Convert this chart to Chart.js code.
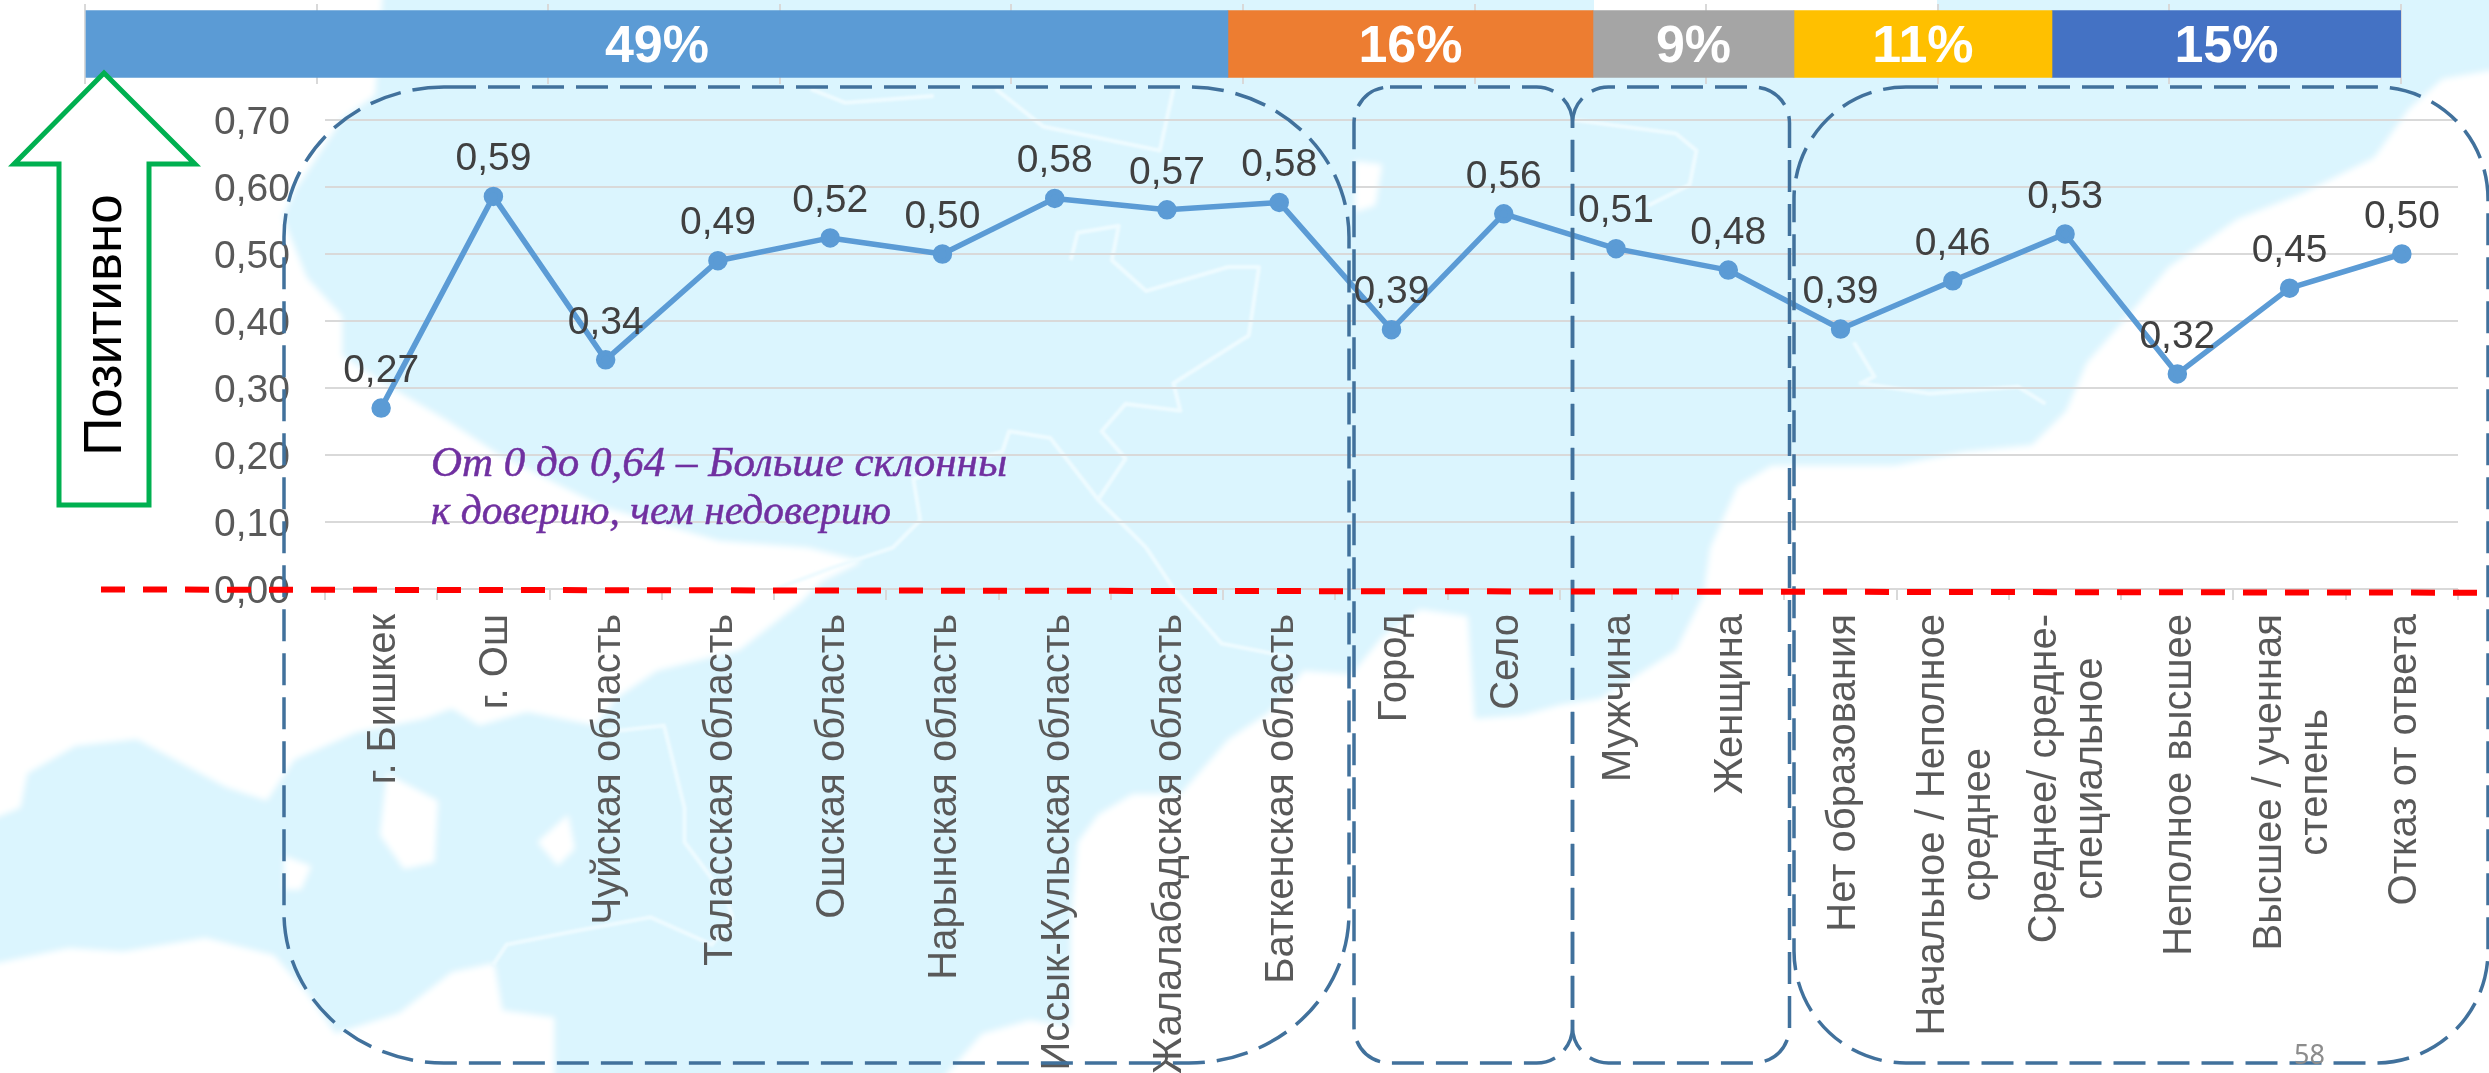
<!DOCTYPE html>
<html>
<head>
<meta charset="utf-8">
<script src="https://cdn.jsdelivr.net/npm/chart.js@4/dist/chart.umd.min.js"></script>
<style>
  html, body { margin: 0; padding: 0; background: #fff; overflow: hidden; }
  #page { position: relative; width: 2489px; height: 1073px; background: #dbf5fe; overflow: hidden; }
  #page > svg, #page > canvas { position: absolute; left: 0; top: 0; }
</style>
</head>
<body>
<div id="page">
  <!-- map behind the chart -->
  <svg width="2489" height="1073">
    <defs>
      <filter id="soft" x="-5%" y="-5%" width="110%" height="110%"><feGaussianBlur stdDeviation="3"/></filter>
      <filter id="softLine" x="-5%" y="-5%" width="110%" height="110%"><feGaussianBlur stdDeviation="1.2"/></filter>
    </defs>
    <g fill="#fff" stroke="none" filter="url(#soft)">
      <g transform="scale(.6845)">
        <path d="M-20,-20 L560,-20 L548,139 L500,174 L431,278 L413,317 L448,405 L500,462 L500,520 L570,565 L653,614 L726,662 L800,700 L880,740 L1050,790 L1180,800 L1260,820 L1200,850 L1170,880 L1080,950 L960,980 L900,1020 L870,1060 L770,1040 L700,1060 L660,1035 L620,1050 L520,1070 L430,1110 L390,1170 L330,1150 L200,1080 L110,1090 L40,1130 L30,1180 L-20,1200 Z"/>
        <path d="M-20,1410 L100,1385 L180,1390 L300,1370 L400,1395 L449,1451 L490,1510 L583,1480 L660,1420 L722,1407 L734,1476 L810,1486 L810,1590 L-20,1590 Z"/>
        <path d="M565,1130 L640,1170 L635,1260 L590,1270 L555,1220 Z"/>
        <path d="M785,1230 L830,1190 L840,1240 L815,1265 Z"/>
        <path d="M415,1250 L455,1265 L440,1300 L415,1300 Z"/>
      </g>
      <g transform="translate(708,0) scale(.6845)">
        <path d="M330,1590 L400,1510 L470,1490 L530,1500 L530,1350 L540,1230 L570,1190 L620,1160 L690,1160 L760,1080 L820,1040 L870,980 L940,985 L985,930 L1040,890 L1110,900 L1120,1050 L1190,1045 L1244,1030 L1304,1020 L1414,950 L1454,870 L1464,800 L1504,710 L1554,680 L1634,680 L1734,680 L1834,660 L1934,650 L1984,600 L2014,530 L2084,450 L2134,390 L2234,320 L2334,280 L2434,230 L2484,160 L2534,115 L2620,100 L2620,1590 Z"/>
        <path d="M945,235 L985,240 L975,300 L945,310 Z"/>
      </g>
    </g>
    <rect x="1594" y="0" width="343" height="12" fill="#fff"/>
    <g fill="none" stroke="#eefbff" stroke-width="6" stroke-linejoin="round" filter="url(#softLine)">
      <g transform="translate(708,0) scale(.6845)">
        <polyline points="530,380 540,340 600,330 590,380 640,425 760,390 805,390 790,490 680,560 690,600 610,590 575,630 610,670 570,730 500,640 440,630 430,660 350,680 300,700 310,760 270,800 180,830 100,860"/>
        <polyline points="570,730 640,800 680,860 750,940 850,960"/>
        <polyline points="420,130 490,185 660,220 680,130"/>
        <polyline points="150,130 200,150 330,140"/>
        <polyline points="1263,175 1414,195 1444,220 1434,270 1374,300"/>
        <polyline points="1674,500 1704,550 1684,560 1784,575 1914,565 1954,590"/>
      </g>
      <g transform="scale(.6845)">
        <polyline points="880,1070 970,1060 1000,1180 1000,1230 1060,1310 1070,1340 1040,1380 950,1340 840,1360 740,1380 720,1410"/>
      </g>
    </g>
  </svg>

  <canvas id="shareChart" width="2489" height="90"></canvas>
  <canvas id="lineChart" width="2489" height="1073"></canvas>

  <!-- annotations on top of the charts -->
  <svg width="2489" height="1073" font-family="Liberation Sans">
    <g fill="none" stroke="#41719c" stroke-width="3.5" stroke-dasharray="32 12">
      <rect x="284" y="87" width="1065" height="976" rx="160" ry="150"/>
      <rect x="1354" y="87" width="218.5" height="976" rx="36" ry="36"/>
      <rect x="1572.5" y="87" width="217" height="976" rx="36" ry="36" stroke-dashoffset="25.5"/>
      <rect x="1794" y="87" width="694" height="976" rx="112" ry="112"/>
    </g>
    <line x1="101" y1="589.5" x2="2479" y2="592.7" stroke="#ff0000" stroke-width="6" stroke-dasharray="24 18"/>
    <polygon points="104,73 195,164 149,164 149,505 59,505 59,164 14,164" fill="#fff" stroke="#00b050" stroke-width="5"/>
    <text transform="translate(120.5,325) rotate(-90)" text-anchor="middle" font-size="53" fill="#000">Позитивно</text>
    <g font-family="Liberation Serif" font-style="italic" fill="#7030a0" stroke="#7030a0" stroke-width=".5" font-size="42">
      <text x="431" y="476" textLength="576" lengthAdjust="spacingAndGlyphs">От 0 до 0,64 – Больше склонны</text>
      <text x="431" y="524" textLength="460" lengthAdjust="spacingAndGlyphs">к доверию, чем недоверию</text>
    </g>
    <text x="2294" y="1064" font-family="Noto Sans" font-size="27" fill="#8c8c8c">58</text>
  </svg>
</div>

<script>
const categories = [
    "г. Бишкек", "г. Ош", "Чуйская область", "Таласская область", "Ошская область",
    "Нарынская область", "Иссык-Кульская область", "Жалалабадская область", "Баткенская область",
    "Город", "Село", "Мужчина", "Женщина", "Нет образования",
    ["Начальное / Неполное", "среднее"], ["Среднее/ средне-", "специальное"], "Неполное высшее",
    ["Высшее / ученная", "степень"], "Отказ от ответа"
];
const trustValues = [0.270, 0.586, 0.342, 0.490, 0.524, 0.500, 0.583, 0.566, 0.577, 0.387, 0.560, 0.508, 0.476, 0.388, 0.460, 0.530, 0.321, 0.449, 0.500];

const shareValues = [49.35, 15.76, 8.68, 11.14, 15.07];
const shareLabels = ["49%", "16%", "9%", "11%", "15%"];
const shareColors = ["#5b9bd5", "#ed7d31", "#a5a5a5", "#ffc000", "#4472c4"];

const FONT = "Liberation Sans";
const GRID = "#d9d9d9";

// value labels over the points
const pointLabels = {
    id: "pointLabels",
    afterDatasetsDraw(chart) {
        const ctx = chart.ctx;
        ctx.save();
        ctx.font = `39px "${FONT}"`;
        ctx.fillStyle = "#404040";
        ctx.textAlign = "center";
        ctx.textBaseline = "middle";
        chart.getDatasetMeta(0).data.forEach((pt, i) => {
            ctx.fillText(trustValues[i].toFixed(2).replace(".", ","), pt.x, pt.y - 37);
        });
        ctx.restore();
    }
};

// rotated category labels, several lines stay centred on each other
const categoryLabels = {
    id: "categoryLabels",
    afterDraw(chart) {
        const ctx = chart.ctx;
        const scale = chart.scales.x;
        ctx.save();
        ctx.font = `40px "${FONT}"`;
        ctx.fillStyle = "#595959";
        ctx.textAlign = "center";
        ctx.textBaseline = "middle";
        categories.forEach((cat, i) => {
            const lines = Array.isArray(cat) ? cat : [cat];
            const longest = Math.max(...lines.map(l => ctx.measureText(l).width));
            ctx.save();
            ctx.translate(scale.getPixelForTick(i) + 3, scale.top + 25);
            ctx.rotate(-Math.PI / 2);
            lines.forEach((line, j) => {
                ctx.fillText(line, -longest / 2, (j - (lines.length - 1) / 2) * 46);
            });
            ctx.restore();
        });
        ctx.restore();
    }
};

const barLabels = {
    id: "barLabels",
    afterDatasetsDraw(chart) {
        const ctx = chart.ctx;
        ctx.save();
        ctx.font = `bold 52px "${FONT}"`;
        ctx.fillStyle = "#fff";
        ctx.textAlign = "center";
        ctx.textBaseline = "middle";
        chart.data.datasets.forEach((ds, i) => {
            const bar = chart.getDatasetMeta(i).data[0];
            ctx.fillText(shareLabels[i], (bar.base + bar.x) / 2, bar.y + 4);
        });
        ctx.restore();
    }
};

new Chart(document.getElementById("shareChart"), {
    type: "bar",
    data: {
        labels: [""],
        datasets: shareValues.map((v, i) => ({
            data: [v],
            backgroundColor: shareColors[i],
            barThickness: 67
        }))
    },
    options: {
        indexAxis: "y",
        responsive: false,
        animation: false,
        layout: { padding: { left: 85, right: 88, top: 4, bottom: 6 } },
        plugins: { legend: { display: false }, tooltip: { enabled: false } },
        scales: {
            x: {
                stacked: true, min: 0, max: 100,
                ticks: { display: false, stepSize: 10 },
                grid: { color: GRID, lineWidth: 2, drawTicks: false },
                border: { display: false }
            },
            y: { stacked: true, display: false }
        }
    },
    plugins: [barLabels]
});

new Chart(document.getElementById("lineChart"), {
    type: "line",
    data: {
        labels: categories,
        datasets: [{
            data: trustValues,
            borderColor: "#5b9bd5",
            backgroundColor: "#5b9bd5",
            borderWidth: 5.5,
            pointRadius: 7,
            tension: 0,
            borderJoinStyle: "round"
        }]
    },
    options: {
        responsive: false,
        animation: false,
        layout: { padding: { left: 0, right: 31, top: 120, bottom: 0 } },
        plugins: { legend: { display: false }, tooltip: { enabled: false } },
        scales: {
            x: {
                offset: true,
                ticks: { display: false },
                grid: { offset: true, drawOnChartArea: false, color: GRID, lineWidth: 2, tickLength: 11 },
                border: { display: false },
                afterFit(scale) { scale.height = 484; }
            },
            y: {
                min: 0, max: 0.7,
                ticks: {
                    stepSize: 0.1,
                    padding: 35,
                    labelOffset: 3,
                    color: "#595959",
                    font: { family: FONT, size: 39 },
                    callback: v => v.toFixed(2).replace(".", ",")
                },
                grid: { color: GRID, lineWidth: 2, drawTicks: false },
                border: { display: false },
                afterFit(scale) { scale.width = 325; }
            }
        }
    },
    plugins: [pointLabels, categoryLabels]
});
</script>
</body>
</html>
